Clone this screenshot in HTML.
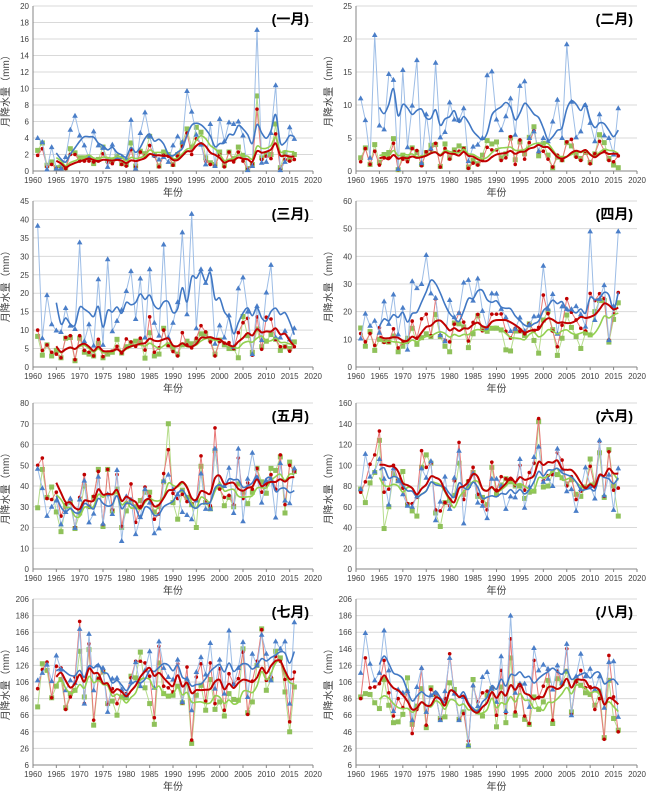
<!DOCTYPE html>
<html><head><meta charset="utf-8">
<style>
html,body{margin:0;padding:0;background:#fff;}
svg{display:block;font-family:"Liberation Sans","Noto Sans CJK SC",sans-serif;}
</style></head>
<body>
<svg id="chart" width="646" height="794" viewBox="0 0 646 794"></svg>
<script>
const years = [];
for (let y = 1961; y <= 2016; y++) years.push(y);
const monthTitles = ["(一月)","(二月)","(三月)","(四月)","(五月)","(六月)","(七月)","(八月)"];
const yMins = [0,0,0,0,0,0,6,6];
const yMaxs = [20,25,45,60,80,160,206,206];
const ySteps = [2,5,5,10,10,20,20,20];
const xTickLabels = [1960,1965,1970,1975,1980,1985,1990,1995,2000,2005,2010,2015,2020];

const blueSeries = [
[4.0,3.5,0.2,2.9,0.3,0.3,1.7,5.0,6.7,4.3,3.1,1.6,4.8,3.1,2.8,0.5,3.2,1.6,1.7,1.5,6.2,0.3,4.6,7.1,4.2,1.9,1.4,1.7,1.1,3.1,4.2,3.5,9.7,7.2,4.4,3.2,0.8,5.7,0.6,6.3,3.6,5.9,5.7,6.0,4.3,0.1,0.6,17.1,1.0,1.1,4.6,10.4,0.1,1.1,5.3,3.9],
[11.0,7.7,2.0,20.6,6.9,6.3,14.7,13.8,0.3,15.3,3.6,9.9,16.8,1.2,8.6,3.4,16.4,5.1,5.9,10.4,7.8,7.7,9.5,1.5,3.7,4.0,5.0,14.5,15.1,7.8,6.2,8.3,11.0,5.5,12.9,13.6,5.0,6.0,3.0,5.0,4.5,7.5,10.8,5.0,19.2,10.5,5.1,6.0,10.0,7.3,4.5,8.6,5.4,5.0,2.5,9.5],
[38.3,7.8,19.5,11.6,9.9,9.5,16.0,11.2,10.3,33.8,7.0,11.6,5.8,23.8,6.0,29.2,9.7,12.5,15.5,20.6,26.0,13.0,24.0,8.0,26.5,12.0,8.5,33.2,8.0,12.0,17.6,36.5,14.3,41.5,10.5,26.5,22.8,26.5,6.3,11.3,8.0,14.0,5.5,21.3,24.3,15.0,3.5,16.5,7.3,20.2,27.7,8.0,8.0,9.8,7.5,10.5],
[10.3,19.3,14.9,16.7,12.4,23.7,15.6,26.2,11.8,21.4,6.3,31.0,28.5,30.0,40.5,26.6,25.0,11.5,9.3,24.2,18.0,19.5,30.5,31.5,24.0,32.0,20.3,14.0,26.6,26.5,21.0,18.0,13.0,13.8,17.9,13.0,15.3,18.3,18.5,36.6,21.0,26.4,12.0,21.9,21.0,20.9,22.0,19.0,14.6,49.0,17.0,24.6,29.6,9.7,22.0,49.0],
[48.3,39.0,25.6,30.0,33.0,21.5,27.5,34.0,19.8,33.5,42.6,22.5,26.7,44.5,21.8,36.0,26.5,47.7,13.5,35.0,33.5,16.8,25.0,38.5,32.0,17.2,19.6,42.5,45.5,38.5,36.0,27.5,26.0,24.0,33.0,46.0,29.0,29.0,58.0,41.0,40.0,48.8,27.0,58.0,23.0,43.5,56.0,44.0,32.0,42.5,43.5,24.8,51.0,33.0,31.7,48.5],
[77,111,89,94,106,87,62,97,85,72,61,60,70,97,88,104,47,65,89,58,88,114,44,80,92,64,61,49,87,87,80,58,70,69,106,59,79,108,118,84,87,80,116,96,75,77,56,77,98,80,68,124,71,91,57,97],
[108,117,127,107,138,121,96,108,105,170,80,164,96,126,123,70,110,111,97,90,106,130,101,120,143,99,155,123,112,109,133,82,110,72,118,136,115,153,98,133,92,168,103,123,154,88,140,126,163,140,108,155,146,155,80,178],
[117,165,128,108,117,168,120,71,97,93,95,60,100,123,70,90,93,60,95,135,92,60,88,30,102,77,112,118,98,82,137,71,186,93,104,104,76,147,120,127,122,97,126,105,152,66,113,140,113,122,97,113,75,130,131,64]
];
const redSeries = [
[1.9,2.7,0.5,0.8,0.3,0.3,0.3,2.0,2.0,1.2,1.2,1.2,1.1,1.2,2.1,1.0,0.9,1.5,0.8,0.6,2.6,0.5,2.3,1.8,3.1,1.8,0.5,1.9,1.8,0.7,1.8,3.0,4.6,2.0,3.9,3.3,1.2,0.8,0.6,2.0,0.5,2.3,1.1,2.3,1.2,0.2,0.8,7.5,1.4,1.8,1.5,4.5,0.2,1.4,1.2,1.4],
[1.4,3.4,1.0,3.0,0.9,2.0,2.0,4.2,0.2,1.8,1.4,3.4,3.1,0.8,2.9,3.2,4.2,0.6,3.4,1.8,2.9,3.0,3.4,0.4,1.2,0.9,1.6,3.6,3.2,3.2,1.6,2.0,5.2,1.0,4.7,1.8,4.3,6.1,2.9,3.0,1.8,0.6,2.4,1.6,4.4,4.8,2.1,1.6,3.0,1.1,2.6,4.5,3.1,1.6,1.4,2.3],
[10.0,4.5,6.0,4.0,3.5,2.5,8.0,8.5,2.0,8.5,4.5,4.0,3.0,7.5,2.8,4.0,4.3,5.6,3.8,7.6,6.8,5.6,7.8,4.6,13.6,4.0,5.2,10.0,5.8,4.2,3.0,9.3,6.0,5.2,7.8,11.2,9.5,6.8,3.0,6.9,6.5,6.6,5.0,9.3,12.0,13.2,3.2,13.6,4.8,13.5,13.0,7.5,5.5,5.5,4.3,5.5],
[12.1,9.1,12.1,7.8,14.2,8.9,9.1,13.8,6.9,8.8,8.9,16.6,10.4,17.4,19.1,11.3,24.6,11.4,9.7,9.1,15.5,19.5,16.2,9.4,16.1,19.0,13.1,14.4,19.1,19.1,19.2,12.9,10.5,14.0,12.9,12.0,15.6,12.9,14.3,26.0,19.3,13.0,7.3,15.1,24.7,19.8,17.0,14.0,13.0,26.6,24.0,26.5,24.8,9.8,19.2,26.9],
[50.0,53.5,34.0,33.5,37.0,25.5,31.0,33.5,20.0,34.5,45.5,30.0,35.0,47.0,21.5,48.0,28.5,45.5,20.5,32.0,41.0,22.5,30.0,39.5,35.0,24.0,26.5,46.0,57.5,36.5,34.0,36.0,32.5,31.5,33.0,54.5,33.0,30.5,68.0,38.5,34.5,35.5,31.0,53.5,34.0,41.5,38.5,48.5,37.0,40.5,45.5,38.5,55.0,31.0,50.0,47.0],
[74,84,101,110,133,74,77,100,86,78,63,63,69,114,98,102,57,56,64,61,85,122,67,85,98,72,65,57,103,76,89,87,86,81,100,76,93,102,145,85,90,91,112,105,80,89,67,75,78,99,79,123,70,113,76,78],
[98,121,130,87,125,123,73,88,112,179,80,152,60,110,120,79,98,80,95,92,111,131,131,129,113,63,149,101,99,94,128,81,124,36,112,128,83,129,80,122,72,116,104,110,142,67,107,131,169,108,112,137,131,109,58,118],
[86,135,99,100,104,132,93,65,86,75,95,44,73,122,54,97,91,61,86,140,92,60,68,35,101,82,93,95,98,66,120,69,158,70,102,65,56,132,87,101,121,60,119,104,146,67,106,120,99,100,73,86,37,138,88,46]
];
const greenSeries = [
[2.5,3.4,0.7,1.1,0.4,0.5,0.4,2.7,2.2,1.6,1.6,1.6,0.9,1.4,2.9,1.3,1.3,1.8,0.9,0.8,3.4,0.6,2.4,2.1,4.2,2.0,0.6,2.3,2.0,0.8,2.0,3.4,5.1,2.9,5.3,4.7,1.6,1.0,0.8,2.3,0.7,2.3,1.5,2.9,1.9,0.3,0.8,9.1,1.6,2.0,2.0,5.7,0.4,2.2,1.4,2.0],
[2.0,3.5,1.0,4.0,1.3,2.5,2.8,4.9,0.2,2.4,1.9,3.5,2.8,1.0,2.8,3.9,4.0,0.7,4.1,2.0,3.2,3.8,3.4,0.6,1.6,1.1,2.4,4.6,4.1,4.4,2.0,2.6,5.0,1.7,4.4,2.6,5.1,6.7,2.3,4.2,2.4,0.5,2.1,1.7,4.3,3.8,2.4,1.9,2.8,1.3,2.6,5.5,4.3,1.9,0.9,0.5],
[8.3,3.2,6.0,3.0,4.5,2.5,7.8,8.0,1.7,7.8,4.0,3.5,3.0,6.5,2.5,3.5,4.0,7.5,3.8,5.5,6.5,7.0,7.0,2.4,9.3,3.0,3.5,10.5,6.0,5.0,3.5,6.0,7.0,6.3,7.0,9.0,9.0,7.5,3.5,7.3,6.0,5.0,5.0,2.5,13.7,8.5,4.0,10.3,5.5,7.0,8.8,7.5,4.5,5.5,5.0,6.8],
[14.1,7.5,12.8,6.0,10.0,9.3,9.0,11.2,5.5,7.5,10.4,14.0,8.2,10.6,12.0,11.0,19.0,11.0,7.5,5.5,15.9,15.6,14.5,7.0,12.0,18.5,14.0,12.9,14.0,14.0,13.4,6.2,5.8,13.0,13.0,11.4,15.6,9.6,5.0,17.0,20.2,13.5,4.2,10.4,18.8,14.3,11.0,6.7,12.3,11.6,20.0,24.0,24.0,9.0,17.2,23.2],
[29.5,48.0,34.5,39.5,27.5,18.0,30.0,32.0,19.5,27.0,40.0,30.0,34.5,48.0,20.5,48.0,28.0,38.5,20.0,28.0,32.5,30.0,33.0,37.0,37.0,27.5,30.0,42.0,70.0,32.0,24.0,38.0,34.5,31.0,20.0,49.5,32.0,29.0,57.0,39.5,30.5,34.5,30.0,41.0,37.0,31.5,37.0,48.5,42.0,36.5,48.5,47.5,54.0,27.0,51.5,47.0],
[77,64,83,93,124,39,60,92,85,94,62,56,51,98,110,102,54,41,64,66,71,102,72,84,93,70,69,62,98,72,81,87,84,80,80,68,74,75,142,79,80,92,91,88,82,86,72,70,79,106,82,112,69,115,80,51],
[76,128,120,87,101,109,75,92,96,143,88,145,54,110,118,80,83,66,88,87,113,111,142,99,80,55,129,92,89,90,101,81,105,32,90,102,72,109,73,82,65,92,85,84,146,69,82,126,170,96,109,143,135,94,46,100],
[88,92,91,81,74,109,78,57,58,67,111,55,77,98,51,99,91,62,64,105,97,61,70,29,109,70,65,90,98,52,100,57,135,66,102,61,55,88,73,82,108,56,110,104,119,70,108,102,93,91,78,95,39,108,62,48]
];

const NS = "http://www.w3.org/2000/svg";
const svg = document.getElementById("chart");
const colsX = [[33,313],[356,637]];
const rowsY = [[6,171],[201,367],[403,569],[599,765]];

function mk(tag, attrs, parent) {
  const e = document.createElementNS(NS, tag);
  for (const k in attrs) e.setAttribute(k, attrs[k]);
  parent.appendChild(e);
  return e;
}
function movAvg(arr) {
  const out = [];
  for (let i = 4; i < arr.length; i++) {
    let s = 0; for (let j = i - 4; j <= i; j++) s += arr[j];
    out.push([years[i], s / 5]);
  }
  return out;
}
function smoothPath(pts) {
  let d = "M" + pts[0][0].toFixed(1) + "," + pts[0][1].toFixed(1);
  for (let i = 0; i < pts.length - 1; i++) {
    const p0 = pts[Math.max(0, i - 1)], p1 = pts[i], p2 = pts[i + 1], p3 = pts[Math.min(pts.length - 1, i + 2)];
    const c1x = p1[0] + (p2[0] - p0[0]) / 6, c1y = p1[1] + (p2[1] - p0[1]) / 6;
    const c2x = p2[0] - (p3[0] - p1[0]) / 6, c2y = p2[1] - (p3[1] - p1[1]) / 6;
    d += "C" + c1x.toFixed(1) + "," + c1y.toFixed(1) + " " + c2x.toFixed(1) + "," + c2y.toFixed(1) + " " + p2[0].toFixed(1) + "," + p2[1].toFixed(1);
  }
  return d;
}

for (let p = 0; p < 8; p++) {
  const col = p % 2, row = Math.floor(p / 2);
  const L = colsX[col][0], R = colsX[col][1], T = rowsY[row][0], B = rowsY[row][1];
  const yMin = yMins[p], yMax = yMaxs[p];
  const xs = v => L + (v - 1960) / 60 * (R - L);
  const ys = v => B - (v - yMin) / (yMax - yMin) * (B - T);
  const g = mk("g", {}, svg);
  
  

  // grid + y ticks
  for (let v = yMin; v <= yMax + 0.001; v += ySteps[p]) {
    const y = ys(v);
    if (v > yMin) {
      const gl = mk("line", {x1: L, x2: R, y1: y, y2: y, stroke: "#d9d9d9", "stroke-width": 1}, g);
      
      
    }
    const t = mk("text", {x: L - 4, y: y + 3, "font-size": 8, fill: "#404040", "text-anchor": "end"}, g);
    
    
    t.textContent = v;
  }
  // axes
  const ax = mk("path", {d: `M${L},${T}V${B}H${R}`, stroke: "#868686", fill: "none", "stroke-width": 1}, g);
  
  
  xTickLabels.forEach(v => {
    const x = xs(v);
    mk("line", {x1: x, x2: x, y1: B, y2: B + 3, stroke: "#868686"}, g);
    const t = mk("text", {x: x, y: B + 12, "font-size": 8, fill: "#404040", "text-anchor": "middle"}, g);
    
    
    t.textContent = v;
  });
  const xt = mk("text", {x: (L + R) / 2, y: B + 25, "font-size": 10, fill: "#404040", "text-anchor": "middle"}, g);
  
  
  xt.textContent = "年份";
  const yx = L - 24, yy = (T + B) / 2;
  const yt = mk("text", {x: yx, y: yy, "font-size": 10, fill: "#404040", "text-anchor": "middle", transform: `rotate(-90 ${yx} ${yy})`}, g);
  
  
  yt.textContent = "月降水量（mm）";
  const tt = mk("text", {x: R - 4, y: T + 18, "font-size": 14, "font-weight": "bold", fill: "#000", "text-anchor": "end"}, g);
  
  
  tt.textContent = monthTitles[p];

  const defs = [
    {data: greenSeries[p], line: "#b5dc8a", ma: "#92d050", name: "green"},
    {data: redSeries[p], line: "#e87878", ma: "#c00000", name: "red"},
    {data: blueSeries[p], line: "#9dbde6", ma: "#4178c4", name: "blue"}
  ];
  defs.forEach(s => {
    const pts = s.data.map((v, i) => [xs(years[i]), ys(v)]);
    const pl = mk("polyline", {points: pts.map(q => q[0].toFixed(1) + "," + q[1].toFixed(1)).join(" "), fill: "none", stroke: s.line, "stroke-width": 1}, g);
    
    
    pts.forEach(q => {
      let m;
      if (s.name === "green") m = mk("rect", {x: q[0] - 2.5, y: q[1] - 2.5, width: 5, height: 5, fill: "#8fc15a"}, g);
      else if (s.name === "red") m = mk("circle", {cx: q[0], cy: q[1], r: 1.8, fill: "#c00000"}, g);
      else m = mk("path", {d: `M${q[0]},${q[1] - 3}L${q[0] + 2.8},${q[1] + 2}L${q[0] - 2.8},${q[1] + 2}Z`, fill: "#4a7ec8"}, g);
      
      
    });
  });
  [defs[0], defs[2], defs[1]].forEach(s => {
    const ma = movAvg(s.data).map(q => [xs(q[0]), ys(q[1])]);
    const mp = mk("path", {d: smoothPath(ma), fill: "none", stroke: s.ma, "stroke-width": s.name === "red" ? 2 : 1.6}, g);
    
    
  });
}
</script>
</body></html>
